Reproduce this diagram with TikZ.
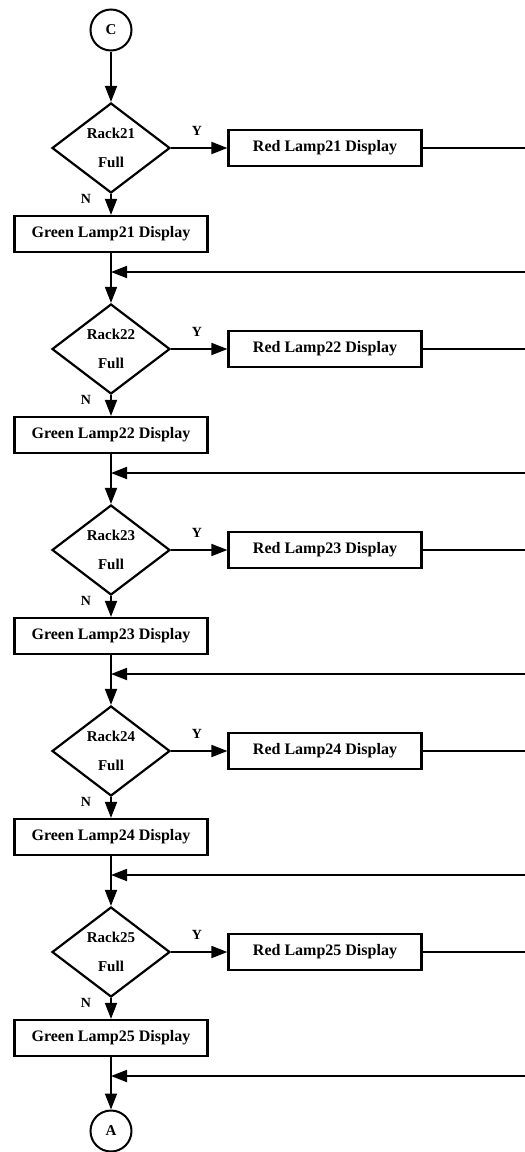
\documentclass[tikz,border=0pt]{standalone}
\usepackage{fontspec}
\setmainfont{Liberation Serif}
\usetikzlibrary{arrows.meta, positioning, shapes.geometric, calc}

\begin{document}
\begin{tikzpicture}[x=1pt, y=-1pt, line width=1.8pt,
  flow/.style={-{Triangle[length=16pt, width=12pt]}},
  lampbox/.style={draw, line width=2.2pt, minimum width=193pt, minimum height=36pt, inner sep=0pt, font=\fontsize{16}{18}\selectfont\bfseries},
  rackdec/.style={draw, diamond, line width=2.2pt, minimum width=118pt, minimum height=90pt, inner sep=0pt, align=center, font=\fontsize{15}{29}\selectfont\bfseries},
  joint/.style={draw, circle, line width=2pt, minimum size=41pt, inner sep=0pt, font=\fontsize{15}{18}\selectfont\bfseries},
  yn/.style={inner sep=0pt, font=\fontsize{14}{16}\selectfont\bfseries}]
\useasboundingbox (0,0) rectangle (525,1152);
\node[joint] (c) at (111,30) {C};
\node[joint] (a) at (111,1131) {A};
\foreach \n [count=\k from 0] in {21,...,25} {
  \node[rackdec] (rack\n) at (111,{148+201*\k}) {Rack\n\\Full};
  \node[lampbox] (red\n) at (325,{148+201*\k}) {Red Lamp\n\ Display};
  \node[lampbox] (green\n) at (111,{234+201*\k}) {Green Lamp\n\ Display};
  \node[yn] at (197,{131+201*\k}) {Y};
  \node[yn] at (86,{199+201*\k}) {N};
  \coordinate (join\n) at (111,{272+201*\k});
  \coordinate (redend\n) at (525,{148+201*\k});
  \coordinate (back\n) at (525,{272+201*\k});
}
\draw[flow] (c) -- (rack21);
\foreach \n in {21,...,25} {
  \draw[flow] (rack\n) -- (red\n);
  \draw[flow] (rack\n) -- (green\n);
  \draw (red\n) -- (redend\n);
  \draw (green\n) -- (join\n);
  \draw[flow] (back\n) -- (join\n);
}
\foreach \n/\m in {21/22, 22/23, 23/24, 24/25} \draw[flow] (join\n) -- (rack\m);
\draw[flow] (join25) -- (a);
\end{tikzpicture}
\end{document}
